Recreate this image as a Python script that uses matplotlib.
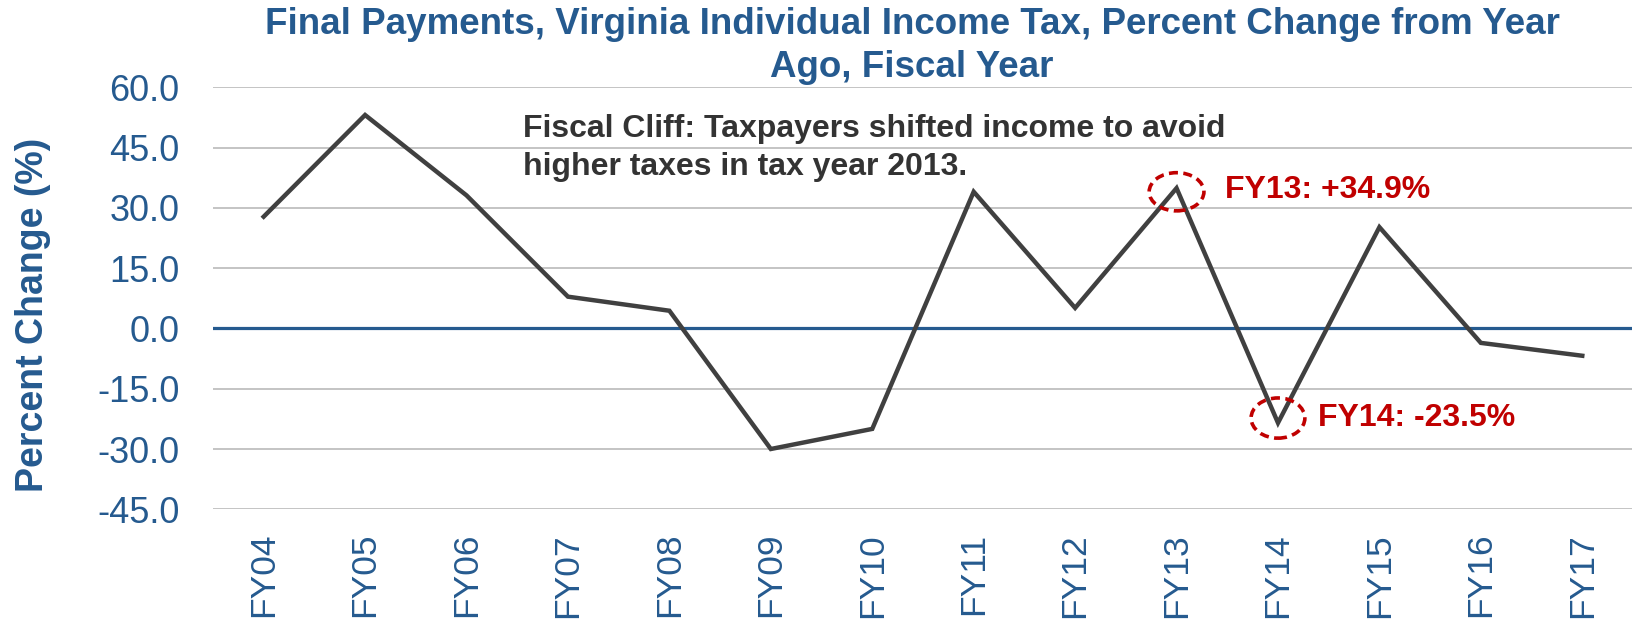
import matplotlib
matplotlib.use("Agg")
import matplotlib.pyplot as plt
from matplotlib.patches import Ellipse
from matplotlib.ticker import FormatStrFormatter

# data
years = ['FY04', 'FY05', 'FY06', 'FY07', 'FY08', 'FY09', 'FY10',
         'FY11', 'FY12', 'FY13', 'FY14', 'FY15', 'FY16', 'FY17']
pct_change = [27.8, 53.1, 33.1, 7.9, 4.4, -30.0, -25.0,
              34.0, 5.1, 34.9, -23.5, 25.2, -3.6, -6.8]
y_ticks = [-45, -30, -15, 0, 15, 30, 45, 60]

blue = '#255A8F'
red = '#C00000'

plt.rcParams['font.family'] = ['Liberation Sans', 'DejaVu Sans']

fig = plt.figure(figsize=(16.33, 6.22), dpi=100)
ax = fig.add_axes([0.1304, 0.1812, 0.8696, 0.6785])

x = list(range(len(years)))

# gridlines and zero line
for t in y_ticks:
    if t == 0:
        continue
    ax.axhline(t, color='#BFBFBF', lw=1.3, zorder=1)
ax.axhline(0, color=blue, lw=2.3, zorder=2)

ax.plot(x, pct_change, color='#404040', lw=3.2, zorder=3,
        solid_joinstyle='miter')

ax.set_xlim(-0.5, len(years) - 0.5)
ax.set_ylim(-45, 60)
ax.set_yticks(y_ticks)
ax.yaxis.set_major_formatter(FormatStrFormatter('%.1f'))
ax.set_xticks(x)
ax.set_xticklabels(years, rotation=90)
ax.tick_params(axis='y', length=0, pad=24, labelsize=26, labelcolor=blue)
ax.tick_params(axis='x', length=0, pad=17, labelsize=25.5, labelcolor=blue)
for s in ax.spines.values():
    s.set_visible(False)

fig.text(33 / 1633, 1 - 315 / 622, 'Percent Change (%)', rotation=90,
         ha='center', va='center', fontsize=27, fontweight='bold', color=blue)

fig.text(0.5585, 1 - 46 / 622,
         'Final Payments, Virginia Individual Income Tax, Percent Change from Year\nAgo, Fiscal Year',
         ha='center', va='center', fontsize=26.5, fontweight='bold', color=blue,
         linespacing=1.3)

# annotations
ax.text(2.56, 44.9, 'Fiscal Cliff: Taxpayers shifted income to avoid\nhigher taxes in tax year 2013.',
        fontsize=23, fontweight='bold', color='#333333', va='center', ha='left',
        linespacing=1.38)

i13 = years.index('FY13')
i14 = years.index('FY14')
ax.add_patch(Ellipse((i13, 34.0), 0.54, 9.5, fill=False, ec=red, lw=2.6,
                     ls=(0, (2.5, 1.5)), zorder=4))
ax.add_patch(Ellipse((i14, -22.3), 0.53, 10, fill=False, ec=red, lw=2.6,
                     ls=(0, (2.5, 1.5)), zorder=4))
ax.text(i13 + 0.48, 34.4, f'FY13: +{pct_change[i13]:.1f}%', fontsize=23,
        fontweight='bold', color=red, va='center', ha='left')
ax.text(i14 + 0.39, -22.3, f'FY14: {pct_change[i14]:.1f}%', fontsize=23,
        fontweight='bold', color=red, va='center', ha='left')

fig.savefig('out.png', dpi=100)
